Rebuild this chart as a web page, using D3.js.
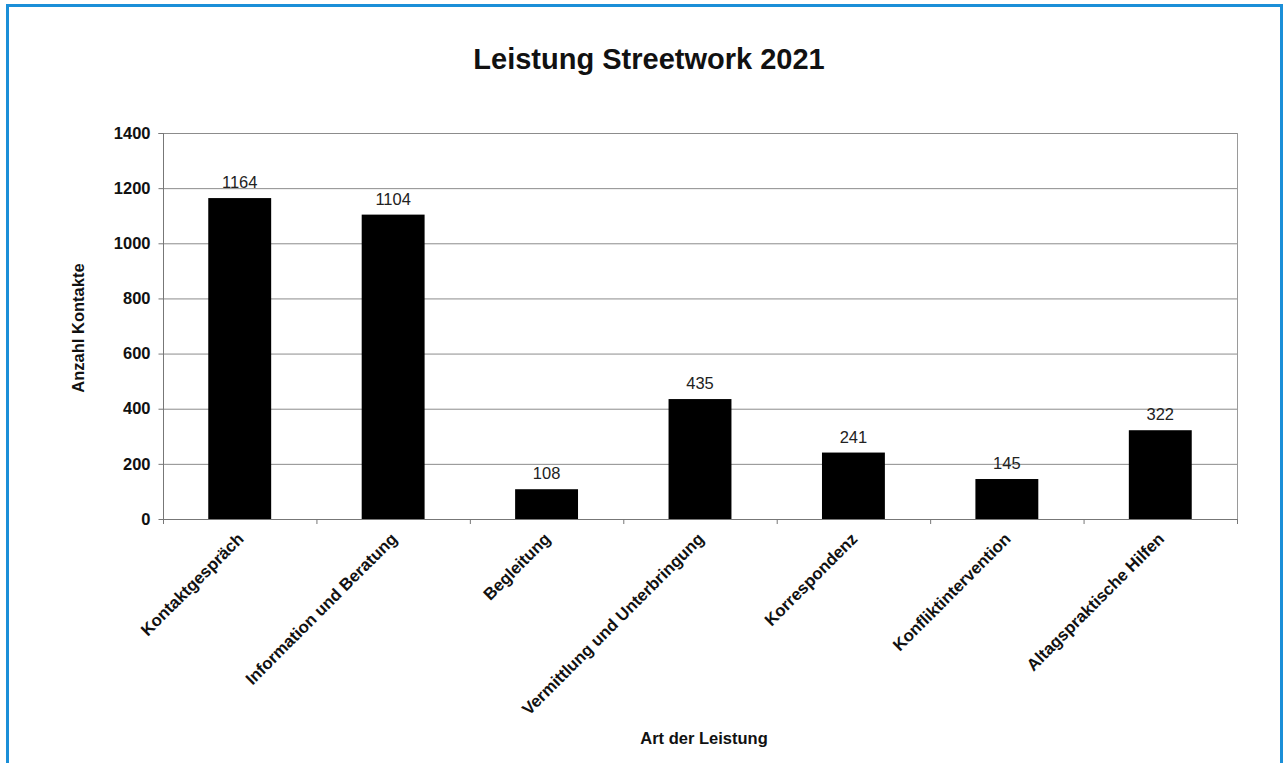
<!DOCTYPE html>
<html>
<head>
<meta charset="utf-8">
<script src="https://cdn.jsdelivr.net/npm/d3@7"></script>
<style>
    body { margin: 0; background: #fff; }
    svg text { font-family: Arial, "Liberation Sans", sans-serif; }
</style>
</head>
<body>
<svg id="chart" width="1283" height="763"></svg>
<script>
// chart data
const categories = ["Kontaktgespräch", "Information und Beratung", "Begleitung",
    "Vermittlung und Unterbringung", "Korrespondenz", "Konfliktintervention",
    "Altagspraktische Hilfen"];
const values = [1164, 1104, 108, 435, 241, 145, 322];
const yTicks = [0, 200, 400, 600, 800, 1000, 1200, 1400];

const svg = d3.select("#chart");

// blue frame round the whole picture (bottom edge is cut off)
svg.append("path")
    .attr("d", "M7.5,763 L7.5,5.5 L1281.5,5.5 L1281.5,763")
    .attr("fill", "none")
    .attr("stroke", "#1b8fd8")
    .attr("stroke-width", 3);

// plot area
const plotLeft = 163, plotRight = 1237, plotTop = 133, plotBottom = 519;

const x = d3.scaleBand()
    .domain(categories)
    .range([plotLeft, plotRight])
    .paddingInner(0.59)
    .paddingOuter(0.295);

const y = d3.scaleLinear()
    .domain([0, 1400])
    .range([plotBottom, plotTop]);

// gridlines
svg.append("g")
    .selectAll("line")
    .data(yTicks.filter(d => d > 0))
    .join("line")
    .attr("x1", plotLeft)
    .attr("x2", plotRight)
    .attr("y1", d => y(d) + 0.5)
    .attr("y2", d => y(d) + 0.5)
    .attr("stroke", "#8c8c8c")
    .attr("stroke-width", 1);

// right edge of plot area
svg.append("line")
    .attr("x1", plotRight + 0.5).attr("x2", plotRight + 0.5)
    .attr("y1", plotTop).attr("y2", plotBottom)
    .attr("stroke", "#9a9a9a");

// bars
svg.append("g")
    .selectAll("rect")
    .data(values)
    .join("rect")
    .attr("x", (d, i) => x(categories[i]))
    .attr("y", d => y(d))
    .attr("width", x.bandwidth())
    .attr("height", d => plotBottom - y(d))
    .attr("fill", "#000");

// value labels
svg.append("g")
    .selectAll("text")
    .data(values)
    .join("text")
    .attr("x", (d, i) => x(categories[i]) + x.bandwidth() / 2)
    .attr("y", d => y(d) - 10)
    .attr("text-anchor", "middle")
    .attr("font-size", "16.5px")
    .attr("fill", "#222")
    .text(d => d);

// y axis
const yAxis = svg.append("g")
    .attr("transform", `translate(${plotLeft + 0.5},0)`)
    .call(d3.axisLeft(y).tickValues(yTicks).tickSize(5).tickPadding(8).tickFormat(d3.format("d")));
yAxis.select(".domain").attr("stroke", "#777").attr("d", `M-5,${plotTop + 0.5}H0V${plotBottom + 0.5}`);
yAxis.selectAll(".tick line").attr("stroke", "#777");
yAxis.selectAll("text")
    .attr("font-size", "16.5px")
    .attr("font-weight", "bold")
    .attr("fill", "#111")
    .attr("font-family", "Arial, 'Liberation Sans', sans-serif");

// x axis line and ticks between categories
const xg = svg.append("g");
xg.append("line")
    .attr("x1", plotLeft).attr("x2", plotRight + 1)
    .attr("y1", plotBottom + 0.5).attr("y2", plotBottom + 0.5)
    .attr("stroke", "#777");
xg.selectAll(".xtick")
    .data(d3.range(categories.length + 1))
    .join("line")
    .attr("class", "xtick")
    .attr("x1", i => plotLeft + i * x.step() + 0.5)
    .attr("x2", i => plotLeft + i * x.step() + 0.5)
    .attr("y1", plotBottom)
    .attr("y2", plotBottom + 5)
    .attr("stroke", "#777");

// category labels, rotated
svg.append("g")
    .selectAll("text")
    .data(categories)
    .join("text")
    .attr("transform", d => `translate(${x(d) + x.bandwidth() / 2 + 5},${plotBottom + 21}) rotate(-45)`)
    .attr("text-anchor", "end")
    .attr("font-size", "16.8px")
    .attr("font-weight", "bold")
    .attr("fill", "#111")
    .text(d => d);

// title
svg.append("text")
    .attr("x", 649)
    .attr("y", 69)
    .attr("text-anchor", "middle")
    .attr("font-size", "29px")
    .attr("font-weight", "bold")
    .attr("fill", "#111")
    .text("Leistung Streetwork 2021");

// axis titles
svg.append("text")
    .attr("x", 704)
    .attr("y", 744)
    .attr("text-anchor", "middle")
    .attr("font-size", "16.5px")
    .attr("font-weight", "bold")
    .attr("fill", "#111")
    .text("Art der Leistung");

svg.append("text")
    .attr("transform", "translate(84,328) rotate(-90)")
    .attr("text-anchor", "middle")
    .attr("font-size", "16.5px")
    .attr("font-weight", "bold")
    .attr("fill", "#111")
    .text("Anzahl Kontakte");
</script>
</body>
</html>
